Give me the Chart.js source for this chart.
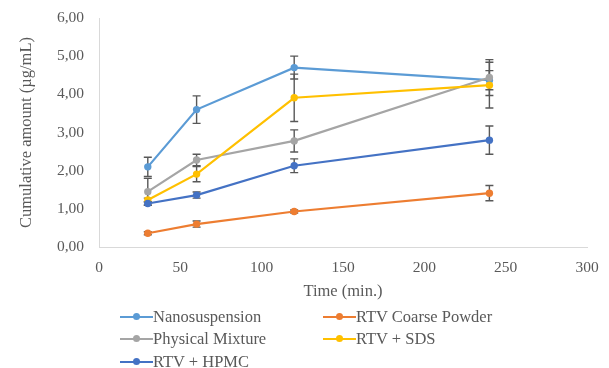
<!DOCTYPE html>
<html>
<head>
<meta charset="utf-8">
<script src="https://cdn.jsdelivr.net/npm/chart.js@4/dist/chart.umd.min.js"></script>
<style>
  html, body { margin: 0; padding: 0; background: #fff; }
  #wrap { position: relative; width: 609px; height: 368px; }
  canvas { position: absolute; left: 0; top: 0; }
  .lg { position: absolute; font-family: "Liberation Serif", "Times New Roman", serif; font-size: 16.5px; color: #595959; white-space: nowrap; line-height: 18px; }
  .lg .ic { position: absolute; left: 0; top: 8px; width: 33px; height: 2px; }
  .lg .dot { position: absolute; left: 13px; top: 5px; width: 7px; height: 7px; border-radius: 50%; }
  .lg .tx { position: absolute; left: 33px; top: 0; }
</style>
</head>
<body>
<div id="wrap">
  <canvas id="c" width="609" height="368"></canvas>
  <div id="legend"></div>
</div>
<script>
// ---- data ----
const times = [30, 60, 120, 240];
const seriesNames = ["Nanosuspension", "RTV Coarse Powder", "Physical Mixture", "RTV + SDS", "RTV + HPMC"];
const nanosuspension = [2.10, 3.60, 4.70, 4.37];
const nanosuspensionErr = [0.25, 0.36, 0.30, 0.25];
const coarsePowder = [0.36, 0.60, 0.93, 1.41];
const coarsePowderErr = [0.04, 0.08, 0.04, 0.20];
const physicalMixture = [1.45, 2.28, 2.78, 4.44];
const physicalMixtureErr = [0.35, 0.15, 0.29, 0.47];
const rtvSds = [1.23, 1.91, 3.91, 4.24];
const rtvSdsErr = [0.05, 0.20, 0.62, 0.60];
const rtvHpmc = [1.14, 1.36, 2.13, 2.80];
const rtvHpmcErr = [0.05, 0.08, 0.18, 0.37];
const xTickLabels = ["0", "50", "100", "150", "200", "250", "300"];
const yTickLabels = ["0,00", "1,00", "2,00", "3,00", "4,00", "5,00", "6,00"];

// ---- styles ----
const colors = ["#5B9BD5", "#ED7D31", "#A5A5A5", "#FFC000", "#4472C4"];
const values = [nanosuspension, coarsePowder, physicalMixture, rtvSds, rtvHpmc];
const errors = [nanosuspensionErr, coarsePowderErr, physicalMixtureErr, rtvSdsErr, rtvHpmcErr];
const FONT = "'Liberation Serif', 'Times New Roman', serif";
const TXT = "#595959";

const datasets = seriesNames.map((name, i) => ({
  label: name,
  data: times.map((t, j) => ({ x: t, y: values[i][j] })),
  errors: errors[i],
  borderColor: colors[i],
  backgroundColor: colors[i],
  borderWidth: 2.2,
  pointRadius: 3.7,
  pointBorderWidth: 0,
  pointBackgroundColor: colors[i],
  tension: 0,
  order: 5 - i
}));

const errorBars = {
  id: 'errorBars',
  beforeDatasetsDraw(chart) {
    const ctx = chart.ctx;
    const ys = chart.scales.y;
    ctx.save();
    ctx.strokeStyle = "#585858";
    ctx.lineWidth = 1.4;
    chart.data.datasets.forEach((ds, di) => {
      const meta = chart.getDatasetMeta(di);
      meta.data.forEach((pt, j) => {
        const v = ds.data[j].y, e = ds.errors[j];
        const x = pt.x;
        const yT = ys.getPixelForValue(v + e);
        const yB = ys.getPixelForValue(v - e);
        ctx.beginPath();
        ctx.moveTo(x, yT); ctx.lineTo(x, yB);
        ctx.moveTo(x - 4, yT); ctx.lineTo(x + 4, yT);
        ctx.moveTo(x - 4, yB); ctx.lineTo(x + 4, yB);
        ctx.stroke();
      });
    });
    ctx.restore();
  }
};

new Chart(document.getElementById('c'), {
  type: 'line',
  data: { datasets },
  plugins: [errorBars],
  options: {
    responsive: false,
    animation: false,
    events: [],
    layout: { padding: { top: 18, right: 22, left: 0, bottom: 66 } },
    plugins: { legend: { display: false }, tooltip: { enabled: false } },
    scales: {
      x: {
        type: 'linear', min: 0, max: 300,
        ticks: { stepSize: 50, color: TXT, font: { family: FONT, size: 15.5 }, padding: 12,
                 callback: (v, i) => xTickLabels[i], maxRotation: 0 },
        grid: { display: false, drawTicks: false },
        border: { color: "#d9d9d9", width: 1 },
        title: { display: true, text: "Time (min.)", color: TXT, font: { family: FONT, size: 16.5 }, padding: { top: 2, bottom: 0 } },
        afterFit: s => { s.height = 55; s.paddingLeft = 0; s.paddingRight = 0; }
      },
      y: {
        min: 0, max: 6,
        ticks: { stepSize: 1, color: TXT, font: { family: FONT, size: 15.5 }, padding: 15,
                 callback: (v, i) => yTickLabels[i] },
        grid: { display: false, drawTicks: false },
        border: { color: "#d9d9d9", width: 1 },
        title: { display: true, text: "Cumulative amount (µg/mL)", color: TXT, font: { family: FONT, size: 16.5 }, padding: { top: 17, bottom: 4 } },
        afterFit: s => { s.width = 99; s.paddingTop = 0; s.paddingBottom = 0; }
      }
    }
  }
});

// ---- legend ----
const legPos = [[120, 308], [323, 308], [120, 330], [323, 330], [120, 353]];
const lg = document.getElementById('legend');
seriesNames.forEach((name, i) => {
  const d = document.createElement('div');
  d.className = 'lg';
  d.style.left = legPos[i][0] + 'px';
  d.style.top = legPos[i][1] + 'px';
  d.innerHTML = '<span class="ic" style="background:' + colors[i] + '"></span>' +
                '<span class="dot" style="background:' + colors[i] + '"></span>' +
                '<span class="tx"></span>';
  d.querySelector('.tx').textContent = name;
  lg.appendChild(d);
});
</script>
</body>
</html>
